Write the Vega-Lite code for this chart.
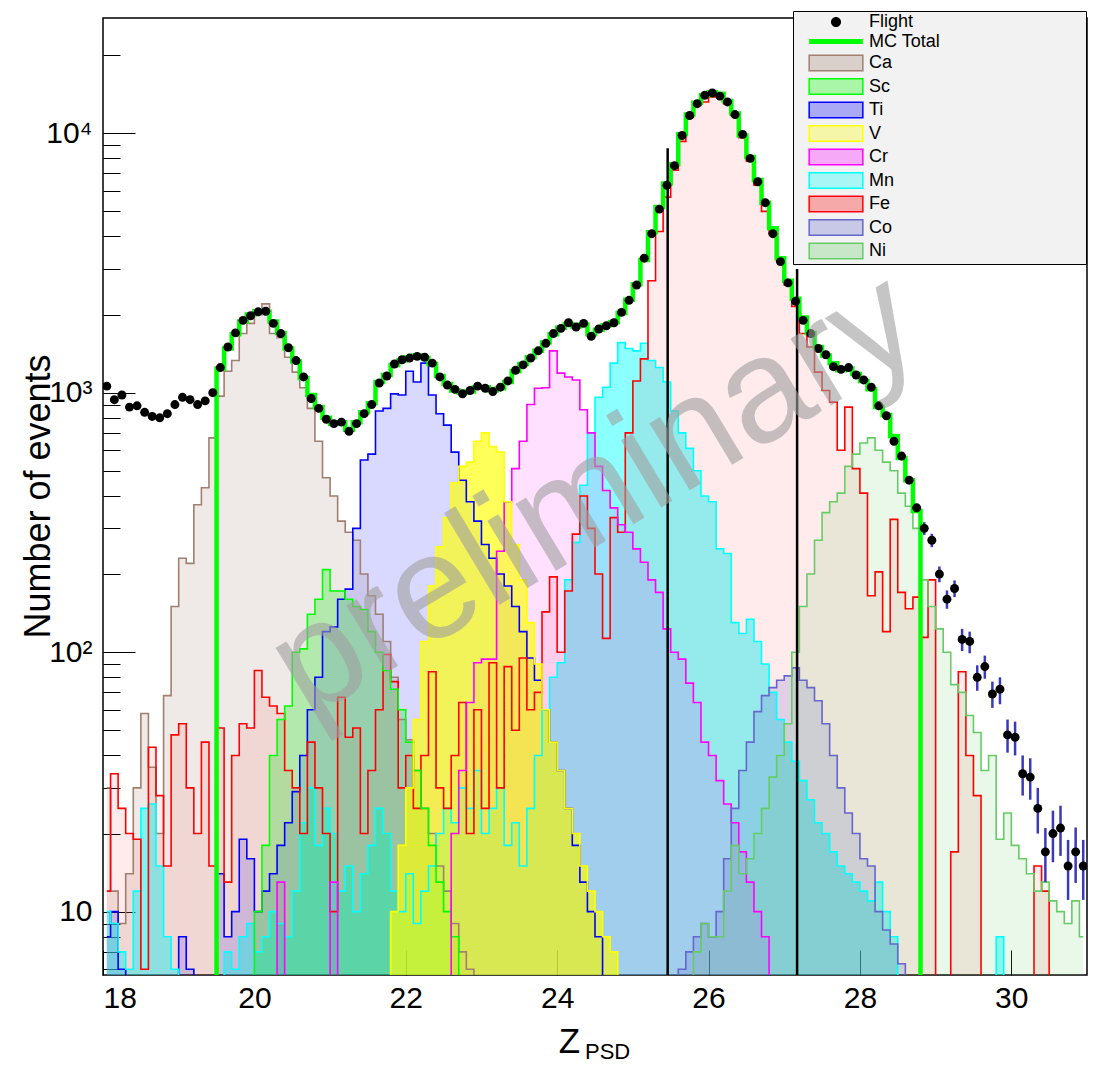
{
"$schema": "https://vega.github.io/schema/vega-lite/v6.json",
"width": 984, "height": 957,
"autosize": "none",
"padding": {"left": 103, "top": 18, "right": 20, "bottom": 93},
"background": "white",
"config": {
  "font": "Liberation Sans",
  "view": {"stroke": "black", "strokeWidth": 1.5},
  "axis": {"grid": false, "labelFont": "Liberation Sans", "titleFont": "Liberation Sans", "labelColor": "black", "titleColor": "black", "tickColor": "black", "domainColor": "black", "titleFontWeight": "normal"}
},
"title": {"text": "PSD", "orient": "bottom", "anchor": "start", "frame": "group", "dx": 482, "dy": -21, "fontSize": 22, "fontWeight": "normal", "font": "Liberation Sans", "color": "black"},
"data": {"values": [
{"x":18.05,"F":1060,"Ca":30,"Ti":8,"Mn":10,"Fe":12},
{"x":18.15,"F":940,"Ca":12,"Ti":10,"Mn":9,"Fe":34},
{"x":18.25,"F":980,"Ca":9,"Ti":6,"Mn":7,"Fe":25},
{"x":18.35,"F":880,"Ca":14,"Ti":1,"Mn":6,"Fe":20},
{"x":18.45,"F":890,"Ca":30,"Mn":12,"Fe":19},
{"x":18.55,"F":840,"Ca":58,"Mn":25,"Fe":6},
{"x":18.65,"F":810,"Ca":36,"Mn":26,"Fe":43},
{"x":18.75,"F":800,"Ca":20,"Mn":15,"Fe":28},
{"x":18.85,"F":830,"Ca":68,"Mn":8,"Fe":15},
{"x":18.95,"F":900,"Ca":150,"Ti":1,"Mn":6,"Fe":48},
{"x":19.05,"F":960,"Ca":230,"Ti":8,"Mn":1,"Fe":53},
{"x":19.15,"F":940,"Ca":220,"Ti":6,"Fe":30},
{"x":19.25,"F":900,"Ca":370,"Ti":1,"Fe":20},
{"x":19.35,"F":930,"Ca":430,"Fe":45},
{"x":19.45,"F":1000,"MC":1,"Ca":670,"Ti":1,"Fe":15},
{"x":19.55,"F":1250,"MC":1240,"Ca":970,"Ti":14,"Mn":1,"Fe":51},
{"x":19.65,"F":1500,"MC":1480,"Ca":1210,"Ti":8,"Mn":7,"Fe":13},
{"x":19.75,"F":1700,"MC":1680,"Ca":1330,"Ti":10,"Mn":6,"Fe":40},
{"x":19.85,"F":1900,"MC":1880,"Ca":1690,"Ti":19,"Mn":8,"Fe":53},
{"x":19.95,"F":1980,"MC":2000,"Ca":1850,"Sc":1,"Ti":16,"Mn":9,"Fe":51},
{"x":20.05,"F":2050,"MC":2060,"Ca":2000,"Sc":10,"Ti":10,"Mn":7,"Fe":85},
{"x":20.15,"F":2060,"MC":2050,"Ca":2200,"Sc":18,"Ti":12,"Mn":8,"Fe":67},
{"x":20.25,"F":1850,"MC":1880,"Ca":1690,"Sc":40,"Ti":14,"Cr":1,"Mn":10,"Fe":62},
{"x":20.35,"F":1690,"MC":1700,"Ca":1630,"Sc":55,"Ti":18,"Cr":13,"Mn":9,"Fe":58},
{"x":20.45,"F":1490,"MC":1480,"Ca":1370,"Sc":62,"Ti":22,"Cr":1,"Mn":8,"Fe":35},
{"x":20.55,"F":1330,"MC":1320,"Ca":1200,"Sc":100,"Ti":29,"Mn":12,"Fe":30},
{"x":20.65,"F":1150,"MC":1140,"Ca":1045,"Sc":103,"Ti":40,"Mn":22,"Fe":20},
{"x":20.75,"F":950,"MC":980,"Ca":870,"Sc":140,"Ti":60,"Mn":30,"Fe":45},
{"x":20.85,"F":870,"MC":880,"Ca":650,"Sc":160,"Ti":80,"Mn":18,"Fe":30},
{"x":20.95,"F":790,"MC":800,"Ca":470,"Sc":208,"Ti":120,"Cr":1,"Mn":25,"Fe":20},
{"x":21.05,"F":760,"MC":760,"Ca":400,"Sc":172,"Ti":125,"Cr":13,"Mn":20,"Fe":10},
{"x":21.15,"F":770,"MC":770,"Ca":320,"Sc":172,"Ti":160,"Cr":1,"Mn":12,"Fe":67},
{"x":21.25,"F":710,"MC":720,"Ca":290,"Sc":160,"Ti":175,"Mn":15,"Fe":47},
{"x":21.35,"F":760,"MC":770,"Ca":270,"Sc":150,"Ti":300,"Mn":10,"Fe":51},
{"x":21.45,"F":830,"MC":840,"Ca":200,"Sc":146,"Ti":550,"Mn":14,"Fe":20},
{"x":21.55,"F":900,"MC":910,"Ca":165,"Sc":120,"Ti":580,"Mn":18,"Fe":35},
{"x":21.65,"F":1090,"MC":1100,"Ca":140,"Sc":100,"Ti":850,"Mn":25,"Fe":60},
{"x":21.75,"F":1160,"MC":1170,"Ca":110,"Sc":85,"Ti":870,"V":1,"Mn":20,"Fe":98},
{"x":21.85,"F":1290,"MC":1280,"Ca":80,"Sc":72,"Ti":990,"V":10,"Mn":12,"Fe":77},
{"x":21.95,"F":1340,"MC":1330,"Ca":55,"Sc":60,"Ti":980,"V":18,"Mn":10,"Fe":30},
{"x":22.05,"F":1360,"MC":1370,"Ca":46,"Sc":45,"Ti":1210,"V":30,"Mn":14,"Fe":40},
{"x":22.15,"F":1380,"MC":1390,"Ca":35,"Sc":35,"Ti":1100,"V":55,"Mn":9,"Fe":25},
{"x":22.25,"F":1370,"MC":1360,"Ca":25,"Sc":25,"Ti":1300,"V":110,"Mn":12,"Fe":40},
{"x":22.35,"F":1300,"MC":1290,"Ca":20,"Sc":18,"Ti":980,"V":180,"Mn":15,"Fe":84},
{"x":22.45,"F":1150,"MC":1160,"Ca":15,"Sc":13,"Ti":830,"V":255,"Mn":20,"Fe":30},
{"x":22.55,"F":1070,"MC":1080,"Ca":12,"Sc":10,"Ti":750,"V":330,"Cr":1,"Mn":25,"Fe":25},
{"x":22.65,"F":1030,"MC":1020,"Ca":9,"Sc":8,"Ti":590,"V":450,"Cr":20,"Mn":22,"Fe":40},
{"x":22.75,"F":990,"MC":1000,"Ca":7,"Sc":1,"Ti":460,"V":520,"Cr":35,"Mn":30,"Fe":64},
{"x":22.85,"F":1020,"MC":1010,"Ca":6,"Ti":380,"V":540,"Cr":64,"Mn":25,"Fe":20},
{"x":22.95,"F":1060,"MC":1050,"Ca":1,"Ti":320,"V":650,"Cr":91,"Mn":35,"Fe":60},
{"x":23.05,"F":1040,"MC":1050,"Ti":260,"V":700,"Cr":94,"Mn":20,"Fe":25},
{"x":23.15,"F":1010,"MC":1020,"Ti":230,"V":620,"Cr":94,"Mn":25,"Fe":91},
{"x":23.25,"F":1050,"MC":1040,"Ti":200,"V":590,"Cr":245,"Mn":30,"Fe":30},
{"x":23.35,"F":1110,"MC":1100,"Ti":180,"V":380,"Cr":380,"Mn":18,"Fe":88},
{"x":23.45,"F":1220,"MC":1210,"Ti":150,"V":260,"Cr":510,"Mn":22,"Fe":50},
{"x":23.55,"F":1280,"MC":1290,"Ti":120,"V":190,"Cr":650,"Mn":15,"Fe":95},
{"x":23.65,"F":1360,"MC":1370,"Ti":95,"V":130,"Cr":900,"Mn":25,"Fe":60},
{"x":23.75,"F":1450,"MC":1450,"Ti":78,"V":90,"Cr":1040,"Mn":40,"Fe":70},
{"x":23.85,"F":1550,"MC":1560,"Ti":60,"V":60,"Cr":1045,"Mn":60,"Fe":143},
{"x":23.95,"F":1690,"MC":1680,"Ti":45,"V":45,"Cr":1450,"Mn":80,"Fe":195},
{"x":24.05,"F":1770,"MC":1780,"Ti":35,"V":35,"Cr":1190,"Mn":91,"Fe":100},
{"x":24.15,"F":1860,"MC":1840,"Ti":25,"V":25,"Cr":1150,"Mn":190,"Fe":172},
{"x":24.25,"F":1790,"MC":1800,"Ti":18,"V":20,"Cr":1120,"Mn":265,"Fe":285},
{"x":24.35,"F":1850,"MC":1830,"Ti":13,"V":15,"Cr":860,"Mn":440,"Fe":400},
{"x":24.45,"F":1650,"MC":1680,"Ti":10,"V":12,"Cr":700,"Mn":700,"Fe":300},
{"x":24.55,"F":1760,"MC":1750,"Ti":8,"V":10,"Cr":520,"Mn":960,"Fe":200},
{"x":24.65,"F":1810,"MC":1820,"Ti":1,"V":8,"Cr":420,"Mn":1050,"Fe":113},
{"x":24.75,"F":1860,"MC":1870,"V":7,"Cr":360,"Mn":1300,"Fe":330},
{"x":24.85,"F":2040,"MC":2030,"V":1,"Cr":310,"Mn":1560,"Fe":290},
{"x":24.95,"F":2270,"MC":2280,"Cr":290,"Mn":1480,"Fe":700},
{"x":25.05,"F":2600,"MC":2620,"Cr":250,"Mn":1450,"Fe":1110},
{"x":25.15,"F":3300,"MC":3250,"Cr":222,"Mn":1550,"Fe":1350},
{"x":25.25,"F":4100,"MC":4150,"Cr":190,"Mn":1330,"Fe":2700},
{"x":25.35,"F":5100,"MC":5200,"Cr":170,"Mn":1250,"Fe":4180},
{"x":25.45,"F":6300,"MC":6400,"Cr":123,"Mn":1100,"Fe":5670},
{"x":25.55,"F":7500,"MC":7600,"Cr":100,"Mn":850,"Fe":7200,"Co":1},
{"x":25.65,"F":9800,"MC":9900,"Cr":94,"Mn":700,"Fe":9300,"Co":6},
{"x":25.75,"F":11700,"MC":11800,"Cr":76,"Mn":610,"Fe":11500,"Co":7,"Ni":1},
{"x":25.85,"F":13000,"MC":13100,"Cr":64,"Mn":500,"Fe":12800,"Co":8,"Ni":7},
{"x":25.95,"F":14000,"MC":14000,"Cr":45,"Mn":400,"Fe":13200,"Co":9,"Ni":9},
{"x":26.05,"F":14300,"MC":14400,"Cr":40,"Mn":380,"Fe":13800,"Co":8,"Ni":8},
{"x":26.15,"F":13900,"MC":14200,"Cr":32,"Mn":250,"Fe":14000,"Co":10,"Ni":8},
{"x":26.25,"F":13200,"MC":13300,"Cr":26,"Mn":240,"Fe":13000,"Co":16,"Ni":12},
{"x":26.35,"F":11800,"MC":11900,"Cr":22,"Mn":130,"Fe":11700,"Co":25,"Ni":18},
{"x":26.45,"F":9900,"MC":9800,"Cr":17,"Mn":118,"Fe":9600,"Co":35,"Ni":14},
{"x":26.55,"F":8000,"MC":8100,"Cr":13,"Mn":134,"Fe":7800,"Co":45,"Ni":16},
{"x":26.65,"F":6500,"MC":6600,"Cr":10,"Mn":110,"Fe":6300,"Co":59,"Ni":20},
{"x":26.75,"F":5400,"MC":5400,"Cr":8,"Mn":90,"Fe":5000,"Co":68,"Ni":25},
{"x":26.85,"F":4100,"MC":4300,"Cr":1,"Mn":70,"Fe":4100,"Co":73,"Ni":33},
{"x":26.95,"F":3200,"MC":3300,"Mn":55,"Fe":3200,"Co":78,"Ni":40},
{"x":27.05,"F":2650,"MC":2700,"Mn":45,"Fe":2600,"Co":81,"Ni":53},
{"x":27.15,"F":2250,"MC":2300,"Mn":38,"Fe":2150,"Co":87,"Ni":100},
{"x":27.25,"F":1900,"MC":1950,"Mn":32,"Fe":1690,"Co":78,"Ni":150},
{"x":27.35,"F":1690,"MC":1700,"Mn":27,"Fe":1500,"Co":73,"Ni":200},
{"x":27.45,"F":1480,"MC":1500,"Mn":22,"Fe":1200,"Co":65,"Ni":270},
{"x":27.55,"F":1400,"MC":1390,"Mn":20,"Fe":1020,"Co":53,"Ni":345},
{"x":27.65,"F":1260,"MC":1300,"Mn":17,"Fe":920,"Co":40,"Ni":380},
{"x":27.75,"F":1230,"MC":1220,"Mn":15,"Fe":600,"Co":30,"Ni":410},
{"x":27.85,"F":1250,"MC":1240,"Mn":14,"Fe":880,"Co":24,"Ni":520},
{"x":27.95,"F":1170,"MC":1180,"Mn":13,"Fe":510,"Co":20,"Ni":580},
{"x":28.05,"F":1120,"MC":1110,"Mn":12,"Fe":410,"Co":16,"Ni":640},
{"x":28.15,"F":1050,"MC":1030,"Mn":11,"Fe":165,"Co":15,"Ni":670},
{"x":28.25,"F":890,"MC":880,"Mn":13,"Fe":204,"Co":10,"Ni":600},
{"x":28.35,"F":815,"MC":820,"Mn":10,"Fe":120,"Co":8.5,"Ni":540},
{"x":28.45,"F":650,"MC":680,"Mn":8,"Fe":325,"Co":7.5,"Ni":500},
{"x":28.55,"F":570,"MC":560,"Mn":1,"Fe":170,"Co":6.3,"Ni":410},
{"x":28.65,"F":460,"MC":460,"Fe":147,"Co":1,"Ni":365},
{"x":28.75,"F":360,"MC":350,"Fe":163,"Ni":300},
{"x":28.85,"F":300,"lo":283,"hi":317,"MC":1,"Fe":114,"Ni":190},
{"x":28.95,"F":270,"lo":254,"hi":286,"Fe":190,"Ni":150},
{"x":29.05,"F":200,"lo":186,"hi":214,"Fe":1,"Ni":123},
{"x":29.15,"F":160,"lo":147,"hi":173,"Fe":1,"Ni":100},
{"x":29.25,"F":176,"lo":163,"hi":189,"Fe":17,"Ni":75},
{"x":29.35,"F":112,"lo":101,"hi":123,"Fe":84,"Ni":70},
{"x":29.45,"F":110,"lo":99,"hi":120,"Fe":40,"Ni":57},
{"x":29.55,"F":80,"lo":71,"hi":89,"Fe":28,"Ni":49},
{"x":29.65,"F":88,"lo":79,"hi":97,"Fe":1,"Ni":35},
{"x":29.75,"F":69,"lo":61,"hi":77,"Mn":1,"Ni":40},
{"x":29.85,"F":72,"lo":63,"hi":80,"Mn":8,"Ni":19},
{"x":29.95,"F":48,"lo":41,"hi":55,"Mn":1,"Ni":24},
{"x":30.05,"F":47,"lo":40,"hi":54,"Ni":18},
{"x":30.15,"F":34,"lo":28,"hi":40,"Ni":16},
{"x":30.25,"F":33,"lo":27,"hi":39,"Fe":1,"Ni":14},
{"x":30.35,"F":25,"lo":20,"hi":30,"Fe":15,"Ni":12},
{"x":30.45,"F":17,"lo":13,"hi":21,"Fe":12,"Ni":13},
{"x":30.55,"F":20,"lo":15.5,"hi":24.5,"Fe":1,"Ni":11},
{"x":30.65,"F":21,"lo":16.4,"hi":25.6,"Ni":10},
{"x":30.75,"F":15,"lo":11.1,"hi":18.9,"Ni":9},
{"x":30.85,"F":17,"lo":12.9,"hi":21.1,"Ni":11},
{"x":30.95,"F":15,"lo":11.1,"hi":18.9,"Ni":8}
]},
"encoding": {
  "x": {"field": "x", "type": "quantitative",
    "scale": {"domain": [18, 31], "nice": false, "zero": false},
    "axis": {"values": [18, 20, 22, 24, 26, 28, 30], "labelFontSize": 30, "tickSize": -25, "labelPadding": 33, "domain": false,
      "title": "Z", "titleFontSize": 35, "titleX": 466, "titleY": 77, "titleAlign": "center", "titleBaseline": "alphabetic"}},
  "y": {"type": "quantitative",
    "scale": {"type": "log", "domain": [5.7, 27800], "nice": false},
    "axis": {"values": [6,7,8,9,10,20,30,40,50,60,70,80,90,100,200,300,400,500,600,700,800,900,1000,2000,3000,4000,5000,6000,7000,8000,9000,10000,20000],
      "labelExpr": "datum.value == 10 ? '10' : datum.value == 100 ? '10²' : datum.value == 1000 ? '10³' : datum.value == 10000 ? '10⁴' : ''",
      "labelFontSize": 30, "labelPadding": 43, "domain": false,
      "tickSize": {"condition": {"test": "indexof([10,100,1000,10000], datum.value) >= 0", "value": -32}, "value": -17},
      "title": "Number of events", "titleFontSize": 36, "titleX": -65, "titleY": 478, "titleAngle": -90, "titleAlign": "center", "titleBaseline": "middle"}}
},
"layer": [
  {
    "transform": [{"fold": ["Ca","Sc","Ti","V","Cr","Mn","Fe","Co","Ni"], "as": ["sp","v"]}, {"filter": "isValid(datum.v)"}],
    "mark": {"type": "area", "interpolate": "step", "clip": true},
    "encoding": {
      "y": {"field": "v", "type": "quantitative", "stack": null},
      "fill": {"field": "sp", "type": "nominal", "legend": null,
        "scale": {"domain": ["Ca","Sc","Ti","V","Cr","Mn","Fe","Co","Ni"],
          "range": ["rgba(160,128,112,0.17)","rgba(0,230,0,0.25)","rgba(0,0,255,0.15)","rgba(255,255,0,0.65)","rgba(255,0,255,0.12)","rgba(0,255,255,0.45)","rgba(255,0,0,0.08)","rgba(102,102,204,0.2)","rgba(102,204,102,0.14)"]}}
    }
  },
  {
    "transform": [{"fold": ["Ca","Sc","Ti","V","Cr","Mn","Fe","Co","Ni"], "as": ["sp","v"]}, {"filter": "isValid(datum.v)"}],
    "mark": {"type": "line", "interpolate": "step", "clip": true, "strokeWidth": 1.6},
    "encoding": {
      "y": {"field": "v", "type": "quantitative"},
      "color": {"field": "sp", "type": "nominal",
        "scale": {"domain": ["Flight","MC Total","Ca","Sc","Ti","V","Cr","Mn","Fe","Co","Ni"],
          "range": ["#000000","#00ff00","#a08070","#00ff00","#0000ff","#ffff00","#ff00ff","#00ffff","#ff0000","#6666cc","#66cc66"]},
        "legend": {"orient": "none", "legendX": 690, "legendY": -7, "title": null,
          "fillColor": "#f2f2f2", "strokeColor": "black", "padding": 2,
          "labelFontSize": 18, "labelFont": "Liberation Sans", "labelColor": "black", "labelLimit": 500,
          "labelExpr": "datum.label + '\u2800\u2800\u2800\u2800\u2800\u2800\u2800\u2800\u2800\u2800\u2800'",
          "symbolSize": 500, "symbolOffset": 32, "labelOffset": 24, "rowPadding": 1.5,
          "symbolType": "M-2.4,-0.7H2.4V0.7H-2.4Z", "symbolStrokeWidth": 1.5,
          "encode": {"symbols": {"update": {
            "shape": {"signal": "datum.value === 'Flight' ? 'M-0.45,0A0.45,0.45,0,1,0,0.45,0A0.45,0.45,0,1,0,-0.45,0Z' : datum.value === 'MC Total' ? 'M-2.4,-0.22H2.4V0.22H-2.4Z' : 'M-2.4,-0.7H2.4V0.7H-2.4Z'"},
            "fill": {"signal": "scale('color', datum.value)"},
            "fillOpacity": {"signal": "datum.value === 'Flight' || datum.value === 'MC Total' ? 1 : 0.3"},
            "stroke": {"signal": "scale('color', datum.value)"},
            "strokeWidth": {"signal": "datum.value === 'Flight' || datum.value === 'MC Total' ? 0 : 1.5"},
            "opacity": {"value": 1}
          }}}}
      }
    }
  },
  {
    "mark": {"type": "line", "interpolate": "step", "clip": true, "strokeWidth": 4.5},
    "encoding": {"y": {"field": "MC", "type": "quantitative"}, "color": {"datum": "MC Total"}}
  },
  {
    "mark": {"type": "rule", "clip": true, "strokeWidth": 2.5, "color": "#3a3ab8"},
    "encoding": {"y": {"field": "lo", "type": "quantitative"}, "y2": {"field": "hi"}}
  },
  {
    "mark": {"type": "point", "filled": true, "clip": true, "size": 80, "opacity": 1},
    "encoding": {"y": {"field": "F", "type": "quantitative"}, "color": {"datum": "Flight"}}
  },
  {
    "data": {"values": [{"x": 25.46, "top": 8750}, {"x": 27.17, "top": 3000}]},
    "mark": {"type": "rule", "clip": true, "strokeWidth": 2.5, "color": "black"},
    "encoding": {"y": {"field": "top", "type": "quantitative"}, "y2": {"datum": 1}}
  },
  {
    "data": {"values": [{"x": 24.5, "y": 400, "t": "preliminary"}]},
    "mark": {"type": "text", "angle": -31, "fontSize": 148, "font": "Liberation Sans", "color": "#a0a0a0", "opacity": 0.6, "align": "center", "baseline": "middle"},
    "encoding": {"y": {"field": "y", "type": "quantitative"}, "text": {"field": "t"}}
  }
]
}
